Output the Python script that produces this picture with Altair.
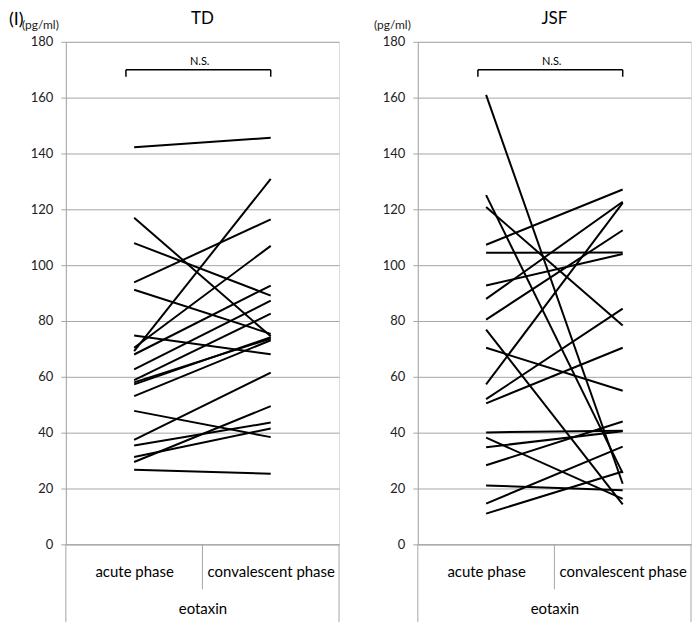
import altair as alt
import pandas as pd

# ---- data ----
phases = ["acute phase", "convalescent phase"]
td_acute = [142.2, 117.0, 107.9, 93.8, 91.2, 74.8, 70.4, 69.2, 68.0, 62.7,
            58.8, 58.0, 57.3, 53.1, 47.8, 37.4, 35.4, 31.3, 29.5, 26.7]
td_conv = [145.6, 74.5, 89.1, 116.4, 75.4, 68.1, 106.9, 130.9, 92.7, 87.3,
           82.6, 73.7, 74.2, 73.1, 38.4, 61.5, 43.6, 41.5, 49.5, 25.3]
jsf_acute = [161.0, 125.1, 120.8, 107.3, 104.4, 92.7, 87.9, 80.5, 76.9, 70.4,
             57.3, 52.0, 50.5, 40.1, 38.2, 34.8, 28.3, 21.1, 14.6, 11.0]
jsf_conv = [21.7, 25.5, 78.4, 127.1, 104.5, 104.0, 122.7, 112.5, 14.3, 55.0,
            122.3, 84.4, 70.4, 40.7, 16.3, 40.5, 44.0, 19.4, 35.0, 26.1]
y_ticks = [0, 20, 40, 60, 80, 100, 120, 140, 160, 180]
ns_level = 170

FONT = "Lato"
GRID = "#a6a6a6"
W, H = 274, 504
one = alt.Data(values=[{}])


def panel(name, acute, conv, first):
    n = len(acute)
    df = pd.DataFrame({
        "subject": list(range(n)) * 2,
        "phase": [0.5] * n + [1.5] * n,
        "value": list(acute) + list(conv),
    })
    xs = alt.Scale(domain=[0, 2], nice=False, zero=False)
    ys = alt.Scale(domain=[0, 180], nice=False, zero=True)
    label_expr = f"datum.value < 1 ? '{phases[0]}' : '{phases[1]}'"
    lines = alt.Chart(df).mark_line(color="black", strokeWidth=2).encode(
        x=alt.X("phase:Q", scale=xs, axis=alt.Axis(
            values=[0.5, 1.5], labelExpr=label_expr, ticks=False, grid=False,
            domainColor=GRID, labelFont=FONT, labelFontSize=15, labelColor="black",
            labelPadding=20, title="eotaxin", titleFont=FONT, titleFontSize=15,
            titleFontWeight="normal", titleColor="black", titlePadding=22)),
        y=alt.Y("value:Q", scale=ys, axis=alt.Axis(
            values=y_ticks, grid=True, gridColor=GRID, domainColor=GRID,
            tickColor=GRID, tickSize=5, labelPadding=8, labelFont=FONT,
            labelFontSize=13, labelColor="#222222",
            title="(pg/ml)", titleAngle=0, titleX=-26, titleY=-10,
            titleAlign="center", titleBaseline="bottom", titleFont=FONT,
            titleFontSize=12, titleFontWeight="normal", titleColor="#222222")),
        detail="subject:N",
    )
    mid = alt.Chart(one).mark_rule(color=GRID, strokeWidth=1).encode(
        x=alt.datum(1), y=alt.value(H), y2=alt.value(H + 45))
    left_edge = alt.Chart(one).mark_rule(color=GRID, strokeWidth=1).encode(
        x=alt.datum(0), y=alt.value(H), y2=alt.value(H + 78))
    right_edge = alt.Chart(one).mark_rule(color=GRID, strokeWidth=1).encode(
        x=alt.datum(2), y=alt.value(H), y2=alt.value(H + 78))
    br = alt.Chart(one).mark_rule(color="black", strokeWidth=1.5).encode(
        x=alt.datum(0.44), x2=alt.datum(1.5), y=alt.datum(ns_level))
    brl = alt.Chart(one).mark_rule(color="black", strokeWidth=1.5).encode(
        x=alt.datum(0.44), y=alt.datum(ns_level), y2=alt.datum(ns_level - 2.5))
    brr = alt.Chart(one).mark_rule(color="black", strokeWidth=1.5).encode(
        x=alt.datum(1.5), y=alt.datum(ns_level), y2=alt.datum(ns_level - 2.5))
    ns = alt.Chart(one).mark_text(font=FONT, fontSize=11, baseline="bottom",
                                  color="black").encode(
        x=alt.datum(0.98), y=alt.datum(ns_level + 1), text=alt.value("N.S."))
    title = alt.Chart(one).mark_text(font=FONT, fontSize=17, baseline="middle",
                                     color="black").encode(
        x=alt.value(W / 2), y=alt.value(-23), text=alt.value(name))
    layers = [left_edge, right_edge, mid, lines, br, brl, brr, ns, title]
    if first:
        tag = alt.Chart(one).mark_text(font=FONT, fontSize=18, baseline="middle",
                                       align="left", color="black").encode(
            x=alt.value(-57), y=alt.value(-22), text=alt.value("(I)"))
        layers.append(tag)
    return alt.layer(*layers).properties(width=W, height=H)


chart = alt.hconcat(
    panel("TD", td_acute, td_conv, True),
    panel("JSF", jsf_acute, jsf_conv, False),
    spacing=32,
).properties(padding=0).configure_view(stroke=None).configure(background="white")

chart.save("out.html", embed_options={"renderer": "svg", "actions": False})
